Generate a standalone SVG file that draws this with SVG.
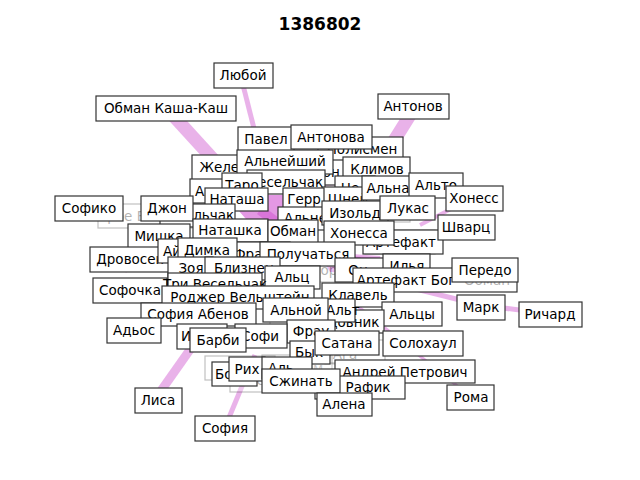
<svg xmlns="http://www.w3.org/2000/svg" width="640" height="480" viewBox="0 0 640 480">
<style>
.t{font-family:"DejaVu Sans","Liberation Sans",sans-serif;font-size:13.5px;fill:#000;text-anchor:middle}
.s{text-anchor:start}
.b{fill:#fff;stroke:#333;stroke-width:1.2}
.f{opacity:0.3}
.e{stroke:#dd88dd;stroke-opacity:0.65;fill:none;stroke-linecap:butt}
.title{font-family:"DejaVu Sans","Liberation Sans",sans-serif;font-size:17px;font-weight:bold;text-anchor:middle}
</style>
<rect width="640" height="480" fill="#fff"/>
<text class="title" x="320" y="30">1386802</text>
<g id="edges">
<path class="e" d="M170 112 L255 205" stroke-width="13"/>
<path class="e" d="M243 85 L262 160" stroke-width="5"/>
<path class="e" d="M412 112 L360 195" stroke-width="13"/>
<path class="e" d="M158 395 L225 300" stroke-width="9"/>
<path class="e" d="M228 420 L255 355" stroke-width="5"/>
<path class="e" d="M550 314 L480 305 L380 280" stroke-width="5"/>
<path class="e" d="M471 397 L350 300" stroke-width="3"/>
<path class="e" d="M125 272 Q140 240 175 230" stroke-width="3"/>
<path class="e" d="M160 320 L230 318" stroke-width="4"/>
<path class="e" d="M472 198 L420 225" stroke-width="4"/>
<path class="e" d="M437 186 L395 200" stroke-width="4"/>
<path class="e" d="M240 250 L380 260" stroke-width="8"/>
<path class="e" d="M260 210 L300 240" stroke-width="10"/>
<path d="M225 195 L285 195 L300 225 L260 235 Z" fill="#cc44cc" opacity="0.55"/>
<path d="M320 255 L390 258 L385 275 L330 272 Z" fill="#cc44cc" opacity="0.5"/>
<path d="M285 150 L345 150 L340 185 L290 190 Z" fill="#e9a0e9" opacity="0.5"/>
</g>
<g id="faded">
<g class="f"><rect class="b" x="98" y="204" width="130" height="24"/><text class="t" x="155" y="221">Трое Весельчак</text></g>
<g class="f"><rect class="b" x="175" y="264" width="70" height="24"/><text class="t" x="210" y="281">Колдун</text></g>
<g class="f"><rect class="b" x="300" y="258" width="60" height="24"/><text class="t" x="328" y="275">Сорс</text></g>
<g class="f"><rect class="b" x="365" y="230" width="70" height="24"/><text class="t" x="400" y="247">Артефакт</text></g>
<g class="f"><rect class="b" x="325" y="340" width="60" height="24"/><text class="t" x="345" y="359">Ага</text></g>
<g class="f"><rect class="b" x="262" y="355" width="70" height="24"/><text class="t" x="297" y="373">Альбом</text></g>
<g class="f"><rect class="b" x="290" y="363" width="80" height="24"/><text class="t" x="328" y="381">Альное</text></g>
<g class="f"><rect class="b" x="200" y="308" width="70" height="24"/><text class="t" x="235" y="326">Иван</text></g>
<g class="f"><rect class="b" x="330" y="198" width="80" height="24"/><text class="t" x="370" y="216">Шнейдер</text></g>
<g class="f"><rect class="b" x="205" y="356" width="70" height="24"/><text class="t" x="240" y="374">Гера</text></g>
<g class="f"><rect class="b" x="230" y="368" width="80" height="24"/><text class="t" x="265" y="385">Бленда</text></g>
</g>
<g id="n-lyuboy"><rect class="b" x="214" y="63" width="59" height="25"/><text class="t" x="243" y="80">Любой</text></g>
<g id="n-obman-kasha"><rect class="b" x="96" y="96" width="140" height="25"/><text class="t" x="166" y="113">Обман Каша-Каш</text></g>
<g id="n-antonov"><rect class="b" x="378" y="94" width="71" height="25"/><text class="t" x="413" y="111">Антонов</text></g>
<g id="n-polismen"><rect class="b" x="318" y="137" width="85" height="24"/><text class="t" x="362" y="154">Полисмен</text></g>
<g id="n-pavel"><rect class="b" x="238" y="127" width="56" height="25"/><text class="t" x="266" y="144">Павел</text></g>
<g id="n-antonova"><rect class="b" x="291" y="125" width="81" height="24"/><text class="t" x="331" y="142">Антонова</text></g>
<g id="n-zhelezo"><rect class="b" x="192" y="155" width="70" height="25"/><text class="t" x="227" y="172">Железо</text></g>
<g id="n-dark-n"><rect class="b" x="300" y="160" width="50" height="25"/><text class="t" x="326" y="177">Дон</text></g>
<g id="n-alnejshij"><rect class="b" x="237" y="150" width="96" height="24"/><text class="t" x="285" y="166">Альнейший</text></g>
<g id="n-klimov"><rect class="b" x="343" y="157" width="67" height="24"/><text class="t" x="377" y="174">Климов</text></g>
<g id="n-ne"><rect class="b" x="335" y="176" width="40" height="24"/><text class="t" x="350" y="193">Не</text></g>
<g id="n-veselchak"><rect class="b" x="247" y="170" width="78" height="24"/><text class="t" x="286" y="187">Весельчак</text></g>
<g id="n-ale"><rect class="b" x="190" y="179" width="40" height="24"/><text class="t" x="208" y="196">Але</text></g>
<g id="n-taro"><rect class="b" x="222" y="173" width="40" height="24"/><text class="t" x="242" y="190">Таро</text></g>
<g id="n-natasha"><rect class="b" x="205" y="188" width="63" height="23"/><text class="t" x="237" y="204">Наташа</text></g>
<g id="n-shney"><rect class="b" x="322" y="187" width="60" height="24"/><text class="t" x="348" y="204">Шней</text></g>
<g id="n-gerr"><rect class="b" x="283" y="188" width="41" height="23"/><text class="t" x="304" y="204">Герр</text></g>
<g id="n-alna"><rect class="b" x="362" y="176" width="52" height="24"/><text class="t" x="388" y="193">Альна</text></g>
<g id="n-alto"><rect class="b" x="409" y="173" width="54" height="25"/><text class="t" x="436" y="190">Альто</text></g>
<g id="n-honess"><rect class="b" x="446" y="186" width="57" height="25"/><text class="t" x="474" y="203">Хонесс</text></g>
<g id="n-aln2"><rect class="b" x="278" y="207" width="60" height="23"/><text class="t s" x="284" y="223">Альнейший</text></g>
<g id="n-izold"><rect class="b" x="322" y="201" width="66" height="24"/><text class="t" x="355" y="218">Изольд</text></g>
<g id="n-lukas"><rect class="b" x="380" y="196" width="55" height="24"/><text class="t" x="408" y="213">Лукас</text></g>
<g id="n-sofiko"><rect class="b" x="55" y="196" width="68" height="25"/><text class="t" x="89" y="213">Софико</text></g>
<g id="n-veselchak2"><rect class="b" x="160" y="204" width="75" height="23"/><text class="t" x="197" y="220">Весельчак</text></g>
<g id="n-dzhon"><rect class="b" x="141" y="196" width="52" height="25"/><text class="t" x="167" y="213">Джон</text></g>
<g id="n-natashka"><rect class="b" x="193" y="219" width="75" height="23"/><text class="t" x="230" y="235">Наташка</text></g>
<g id="n-mishka"><rect class="b" x="128" y="224" width="62" height="24"/><text class="t" x="159" y="241">Мишка</text></g>
<g id="n-artefakt"><rect class="b" x="363" y="230" width="80" height="24"/><text class="t" x="401" y="247">Артефакт</text></g>
<g id="n-obman"><rect class="b" x="268" y="220" width="50" height="23"/><text class="t" x="293" y="236">Обман</text></g>
<g id="n-honessa"><rect class="b" x="324" y="221" width="70" height="24"/><text class="t" x="359" y="238">Хонесса</text></g>
<g id="n-shvarts"><rect class="b" x="438" y="215" width="57" height="25"/><text class="t" x="466" y="232">Шварц</text></g>
<g id="n-drovosek"><rect class="b" x="90" y="247" width="80" height="25"/><text class="t" x="130" y="264">Дровосек</text></g>
<g id="n-aj"><rect class="b" x="158" y="239" width="75" height="24"/><text class="t s" x="163" y="256">Айгуль</text></g>
<g id="n-fransua"><rect class="b" x="232" y="242" width="58" height="24"/><text class="t s" x="234" y="259">Франсуа</text></g>
<g id="n-dimka"><rect class="b" x="178" y="238" width="59" height="24"/><text class="t" x="207" y="255">Димка</text></g>
<g id="n-poluch"><rect class="b" x="260" y="242" width="95" height="24"/><text class="t" x="308" y="259">Получаться</text></g>
<g id="n-zo"><rect class="b" x="168" y="257" width="45" height="23"/><text class="t" x="191" y="273">Зоя</text></g>
<g id="n-bliznets"><rect class="b" x="205" y="257" width="75" height="23"/><text class="t" x="244" y="273">Близнец</text></g>
<g id="n-on"><rect class="b" x="335" y="258" width="50" height="24"/><text class="t" x="358" y="275">Он</text></g>
<g id="n-ilya"><rect class="b" x="383" y="254" width="47" height="24"/><text class="t" x="407" y="271">Илья</text></g>
<g id="n-artbog"><rect class="b" x="353" y="268" width="164" height="24"/><text class="t" x="406" y="285">Артефакт Бог</text><text class="t" x="487" y="285" opacity="0.3">Обман</text></g>
<g id="n-peredo"><rect class="b" x="452" y="258" width="66" height="24"/><text class="t" x="485" y="275">Передо</text></g>
<g id="n-alts"><rect class="b" x="265" y="266" width="55" height="23"/><text class="t" x="292" y="282">Альц</text></g>
<g id="n-sofochka"><rect class="b" x="93" y="278" width="74" height="25"/><text class="t" x="130" y="295">Софочка</text></g>
<g id="n-tri"><rect class="b" x="168" y="273" width="94" height="23"/><text class="t" x="215" y="289">Три Весельчак</text></g>
<g id="n-klavel"><rect class="b" x="322" y="283" width="72" height="24"/><text class="t" x="358" y="300">Клавель</text></g>
<g id="n-rodzher"><rect class="b" x="162" y="286" width="152" height="23"/><text class="t" x="240" y="302">Роджер Вельштейн</text></g>
<g id="n-alts2"><rect class="b" x="382" y="302" width="60" height="24"/><text class="t" x="412" y="319">Альцы</text></g>
<g id="n-sadovnik"><rect class="b" x="318" y="310" width="66" height="23"/><text class="t" x="345" y="327">Садовник</text></g>
<g id="n-alt"><rect class="b" x="310" y="299" width="45" height="23"/><text class="t s" x="326" y="315">Альт</text></g>
<g id="n-sofiya-ab"><rect class="b" x="141" y="303" width="115" height="23"/><text class="t" x="198" y="319">София Абенов</text></g>
<g id="n-alnoj"><rect class="b" x="263" y="298" width="65" height="24"/><text class="t" x="296" y="315">Альной</text></g>
<g id="n-adyos"><rect class="b" x="107" y="318" width="54" height="25"/><text class="t" x="134" y="335">Адьос</text></g>
<g id="n-mark"><rect class="b" x="457" y="295" width="48" height="25"/><text class="t" x="481" y="312">Марк</text></g>
<g id="n-richard"><rect class="b" x="519" y="302" width="63" height="25"/><text class="t" x="550" y="319">Ричард</text></g>
<g id="n-frau"><rect class="b" x="287" y="320" width="48" height="23"/><text class="t" x="311" y="336">Фрау</text></g>
<g id="n-iris"><rect class="b" x="177" y="324" width="50" height="25"/><text class="t s" x="181" y="341">Ирис</text></g>
<g id="n-sofi"><rect class="b" x="235" y="324" width="52" height="24"/><text class="t" x="260" y="341">Софи</text></g>
<g id="n-barbi"><rect class="b" x="190" y="328" width="56" height="24"/><text class="t" x="218" y="345">Барби</text></g>
<g id="n-by"><rect class="b" x="290" y="341" width="40" height="23"/><text class="t s" x="295" y="357">Бык</text></g>
<g id="n-satana"><rect class="b" x="315" y="331" width="64" height="24"/><text class="t" x="347" y="348">Сатана</text></g>
<g id="n-solohaul"><rect class="b" x="383" y="331" width="80" height="25"/><text class="t" x="423" y="348">Солохаул</text></g>
<g id="n-bo"><rect class="b" x="212" y="362" width="45" height="24"/><text class="t s" x="215" y="379">Бог</text></g>
<g id="n-rih"><rect class="b" x="229" y="357" width="36" height="24"/><text class="t" x="247" y="374">Рих</text></g>
<g id="n-al3"><rect class="b" x="262" y="357" width="50" height="22"/><text class="t s" x="268" y="373">Аль</text></g>
<g id="n-andrey"><rect class="b" x="335" y="360" width="140" height="23"/><text class="t" x="405" y="377">Андрей Петрович</text></g>
<g id="n-rafik"><rect class="b" x="315" y="376" width="90" height="23"/><text class="t" x="368" y="392">Рафик</text></g>
<g id="n-szhinat"><rect class="b" x="262" y="369" width="78" height="24"/><text class="t" x="301" y="386">Сжинать</text></g>
<g id="n-alena"><rect class="b" x="317" y="393" width="55" height="23"/><text class="t" x="344" y="409">Алена</text></g>
<g id="n-roma"><rect class="b" x="447" y="385" width="47" height="25"/><text class="t" x="471" y="402">Рома</text></g>
<g id="n-lisa"><rect class="b" x="135" y="388" width="47" height="25"/><text class="t" x="158" y="405">Лиса</text></g>
<g id="n-sofiya"><rect class="b" x="195" y="416" width="60" height="25"/><text class="t" x="225" y="433">София</text></g>
</svg>
